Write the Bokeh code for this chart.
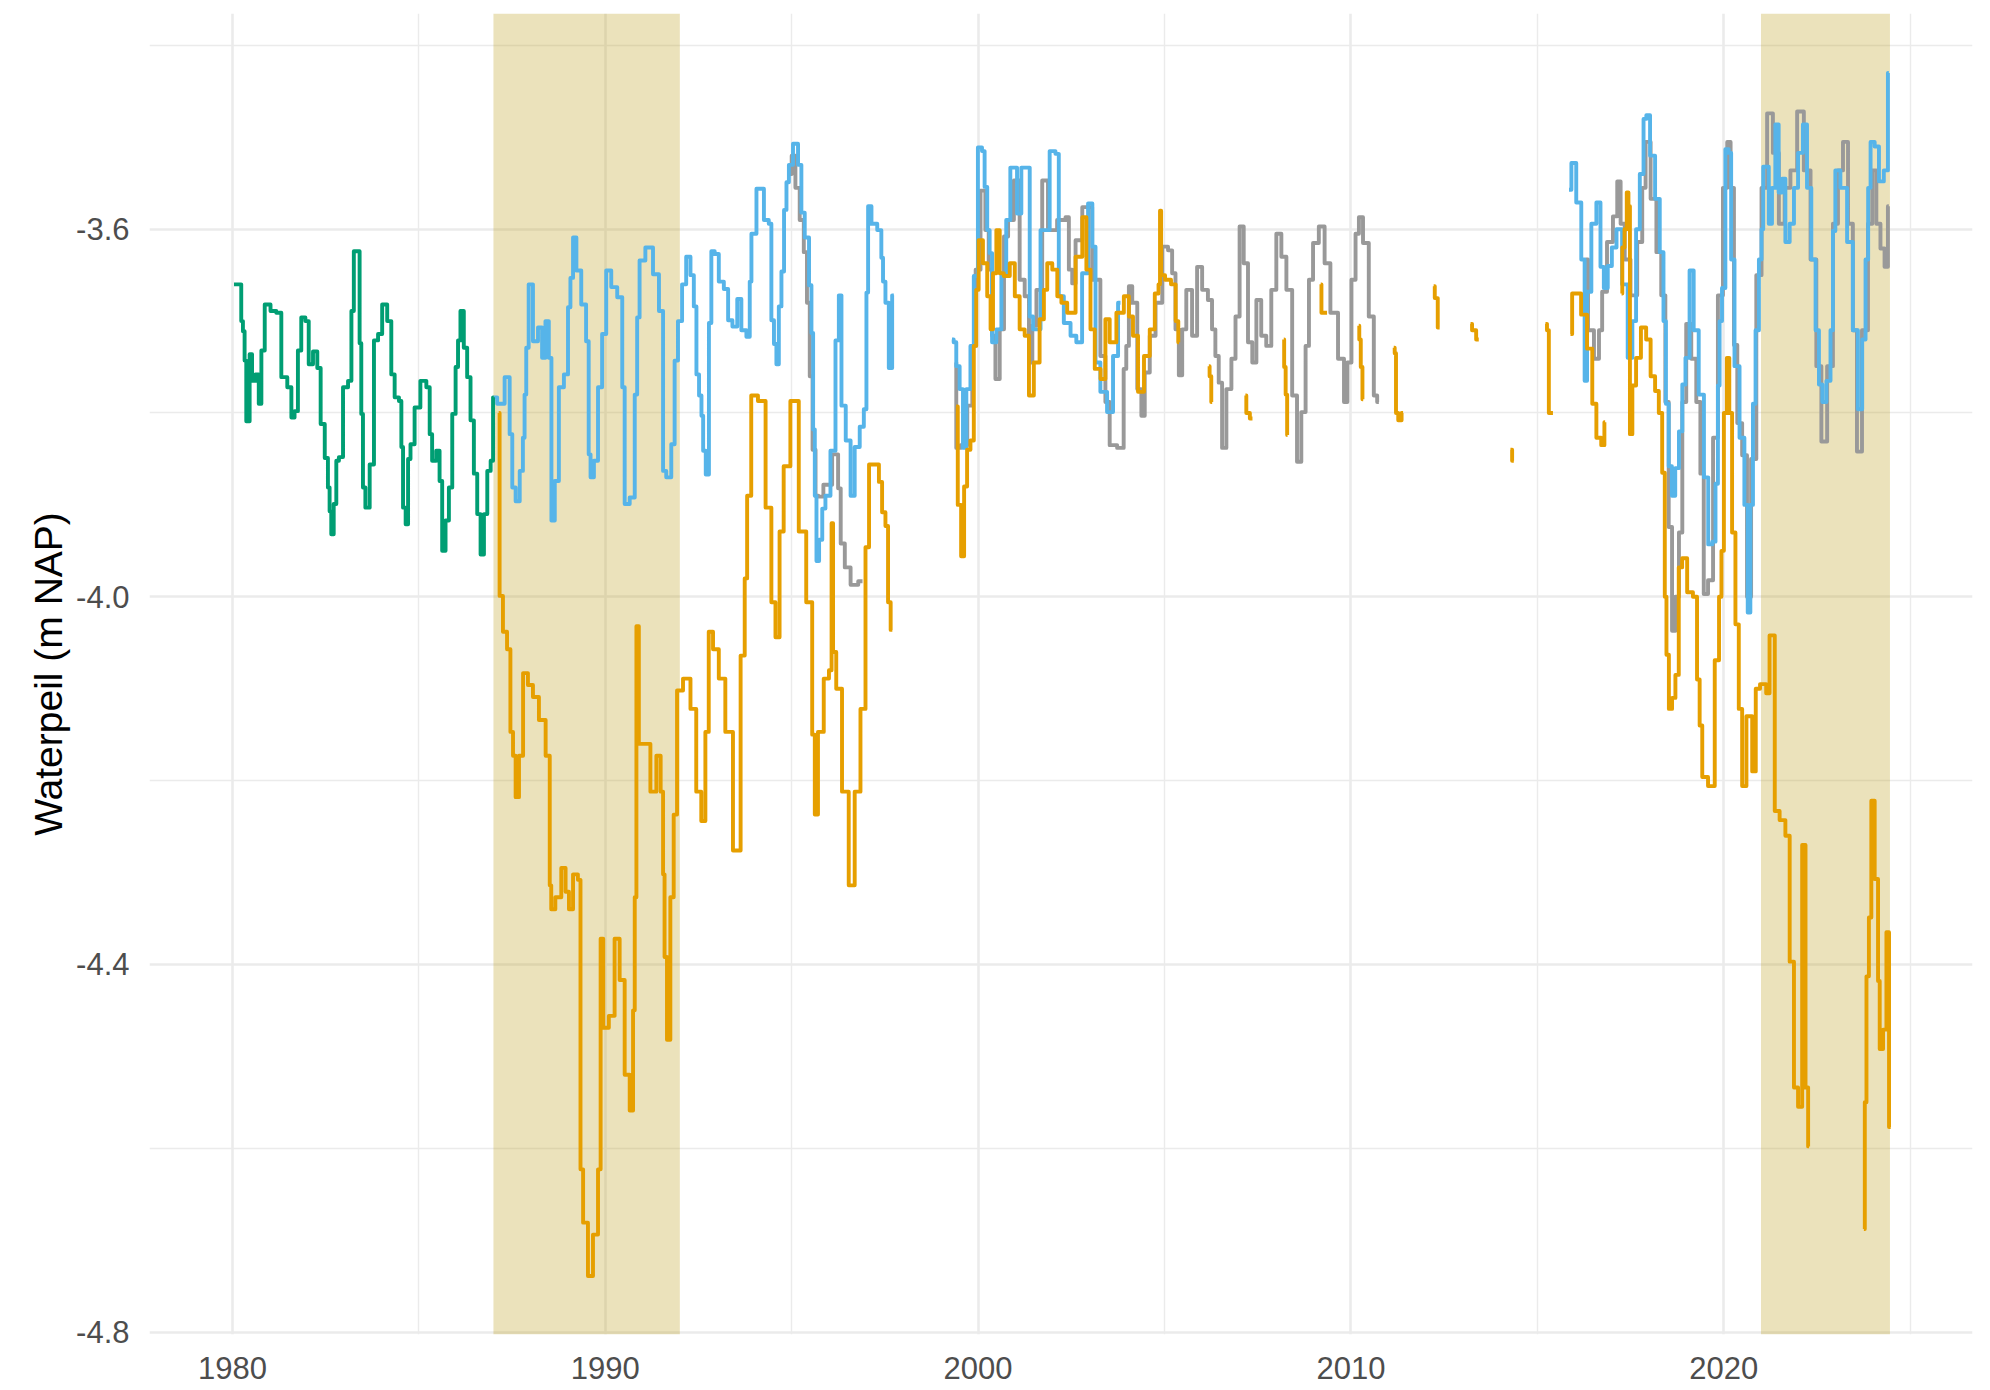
import math
from bokeh.plotting import figure
from bokeh.models import Range1d, FixedTicker, PrintfTickFormatter
from bokeh.embed import file_html
from bokeh.resources import INLINE

# ---------------- data (year, water level m NAP); None = gap ----------------
x_ticks = [1980, 1990, 2000, 2010, 2020]
x_minor = [1985, 1995, 2005, 2015, 2025]
y_ticks = [-4.8, -4.4, -4.0, -3.6]
y_minor = [-4.6, -4.2, -3.8, -3.4]

shade_start = [1987.0, 2021.0]
shade_end = [1992.0, 2024.46]

green = [(1980.04,-3.660),(1980.21,-3.660),(1980.26,-3.700),(1980.30,-3.711),(1980.35,-3.743),(1980.39,-3.809),
         (1980.44,-3.809),(1980.48,-3.736),(1980.57,-3.765),(1980.66,-3.758),(1980.75,-3.790),(1980.80,-3.732),
         (1980.93,-3.682),(1981.11,-3.689),(1981.24,-3.691),(1981.38,-3.761),(1981.56,-3.772),(1981.60,-3.805),
         (1981.73,-3.798),(1981.78,-3.732),(1981.91,-3.696),(1982.00,-3.700),(1982.09,-3.747),(1982.23,-3.733),
         (1982.32,-3.751),(1982.41,-3.812),(1982.54,-3.849),(1982.58,-3.881),(1982.63,-3.907),(1982.67,-3.932),
         (1982.76,-3.899),(1982.81,-3.852),(1982.90,-3.848),(1983.03,-3.772),(1983.17,-3.765),(1983.21,-3.689),
         (1983.30,-3.624),(1983.39,-3.624),(1983.43,-3.724),(1983.48,-3.801),(1983.52,-3.881),(1983.61,-3.903),
         (1983.75,-3.856),(1983.84,-3.721),(1983.97,-3.714),(1984.06,-3.682),(1984.24,-3.700),(1984.28,-3.758),
         (1984.42,-3.783),(1984.51,-3.787),(1984.55,-3.837),(1984.60,-3.903),(1984.69,-3.921),(1984.73,-3.850),
         (1984.82,-3.834),(1984.95,-3.794),(1985.13,-3.765),(1985.27,-3.772),(1985.31,-3.823),(1985.40,-3.852),
         (1985.53,-3.841),(1985.58,-3.874),(1985.67,-3.950),(1985.76,-3.917),(1985.85,-3.881),(1985.94,-3.801),
         (1986.03,-3.750),(1986.07,-3.721),(1986.16,-3.689),(1986.25,-3.729),(1986.34,-3.761),(1986.43,-3.808),
         (1986.52,-3.866),(1986.61,-3.910),(1986.70,-3.954),(1986.79,-3.910),(1986.88,-3.863),(1986.97,-3.852),
         (1987.01,-3.783)]

blue = [(1987.01,-3.783),(1987.19,-3.790),(1987.41,-3.761),(1987.46,-3.823),(1987.55,-3.881),(1987.64,-3.896),
        (1987.77,-3.863),(1987.81,-3.827),(1987.86,-3.780),(1987.90,-3.729),(1987.99,-3.660),(1988.13,-3.722),
        (1988.26,-3.707),(1988.35,-3.740),(1988.44,-3.700),(1988.53,-3.740),(1988.58,-3.917),(1988.71,-3.874),
        (1988.80,-3.772),(1988.98,-3.758),(1989.02,-3.685),(1989.11,-3.653),(1989.16,-3.609),(1989.29,-3.645),
        (1989.42,-3.682),(1989.55,-3.722),(1989.56,-3.845),(1989.65,-3.870),(1989.74,-3.852),(1989.87,-3.772),
        (1989.96,-3.714),(1990.09,-3.645),(1990.23,-3.663),(1990.41,-3.674),(1990.50,-3.772),(1990.54,-3.899),
        (1990.77,-3.892),(1990.81,-3.780),(1990.90,-3.696),(1990.94,-3.634),(1991.21,-3.620),(1991.35,-3.649),
        (1991.53,-3.689),(1991.57,-3.863),(1991.70,-3.870),(1991.84,-3.834),(1991.88,-3.743),(1992.02,-3.700),
        (1992.10,-3.660),(1992.24,-3.630),(1992.33,-3.650),(1992.42,-3.684),(1992.47,-3.758),(1992.56,-3.781),
        (1992.60,-3.803),(1992.65,-3.841),(1992.74,-3.867),(1992.82,-3.702),(1992.87,-3.624),(1993.00,-3.627),
        (1993.09,-3.657),(1993.27,-3.665),(1993.32,-3.699),(1993.50,-3.706),(1993.58,-3.676),(1993.72,-3.710),
        (1993.85,-3.717),(1993.90,-3.657),(1993.94,-3.605),(1994.17,-3.556),(1994.34,-3.590),(1994.43,-3.594),
        (1994.48,-3.699),(1994.57,-3.725),(1994.61,-3.747),(1994.70,-3.684),(1994.75,-3.646),(1994.84,-3.579),
        (1994.88,-3.549),(1994.97,-3.530),(1995.10,-3.507),(1995.24,-3.530),(1995.28,-3.582),(1995.42,-3.609),
        (1995.51,-3.661),(1995.55,-3.713),(1995.60,-3.818),(1995.64,-3.890),(1995.69,-3.961),(1995.78,-3.938),
        (1995.86,-3.904),(1995.95,-3.890),(1996.13,-3.841),(1996.22,-3.721),(1996.31,-3.672),(1996.36,-3.792),
        (1996.54,-3.830),(1996.62,-3.890),(1996.76,-3.837),(1996.89,-3.815),(1996.98,-3.796),(1997.03,-3.669),
        (1997.07,-3.575),(1997.21,-3.594),(1997.38,-3.601),(1997.43,-3.631),(1997.47,-3.657),(1997.56,-3.680),
        (1997.65,-3.751),(1997.74,-3.672),
        None,
        (1999.30,-3.720),(1999.39,-3.723),(1999.44,-3.749),(1999.57,-3.774),(1999.62,-3.838),(1999.75,-3.774),
        (1999.84,-3.727),(1999.93,-3.651),(2000.06,-3.511),(2000.15,-3.515),(2000.20,-3.554),(2000.29,-3.601),
        (2000.33,-3.626),(2000.42,-3.723),(2000.56,-3.709),(2000.69,-3.648),(2000.82,-3.590),(2000.91,-3.533),
        (2001.00,-3.533),(2001.09,-3.583),(2001.23,-3.533),(2001.36,-3.533),(2001.41,-3.695),(2001.54,-3.709),
        (2001.81,-3.601),(2002.03,-3.515),(2002.12,-3.518),(2002.21,-3.673),(2002.39,-3.702),(2002.57,-3.716),
        (2002.70,-3.723),(2002.88,-3.648),(2003.02,-3.572),(2003.11,-3.619),(2003.19,-3.745),(2003.37,-3.777),
        (2003.55,-3.799),(2003.69,-3.738),(2003.82,-3.680),
        None,
        (2015.85,-3.557),(2015.98,-3.528),(2016.11,-3.571),(2016.25,-3.633),(2016.29,-3.765),(2016.38,-3.668),
        (2016.52,-3.594),(2016.65,-3.571),(2016.74,-3.641),(2016.83,-3.664),(2016.95,-3.640),(2017.05,-3.620),
        (2017.20,-3.600),(2017.35,-3.660),(2017.50,-3.740),(2017.60,-3.700),(2017.70,-3.600),(2017.80,-3.540),
        (2017.90,-3.480),(2017.95,-3.476),(2018.10,-3.520),(2018.22,-3.567),(2018.35,-3.625),(2018.42,-3.700),
        (2018.48,-3.790),(2018.57,-3.858),(2018.65,-3.890),(2018.75,-3.860),(2018.85,-3.820),(2018.93,-3.769),
        (2019.02,-3.740),(2019.15,-3.645),(2019.24,-3.710),(2019.42,-3.780),(2019.52,-3.870),(2019.65,-3.943),
        (2019.74,-3.940),(2019.82,-3.877),(2019.87,-3.770),(2019.91,-3.700),(2020.00,-3.664),(2020.09,-3.513),
        (2020.18,-3.517),(2020.22,-3.633),(2020.36,-3.749),(2020.49,-3.827),(2020.62,-3.900),(2020.67,-4.017),
        (2020.76,-3.900),(2020.81,-3.790),(2020.90,-3.710),(2020.99,-3.633),(2021.04,-3.600),(2021.08,-3.532),
        (2021.17,-3.532),(2021.25,-3.594),(2021.34,-3.555),(2021.43,-3.486),(2021.52,-3.560),(2021.61,-3.545),
        (2021.70,-3.614),(2021.84,-3.594),(2021.93,-3.555),(2022.06,-3.517),(2022.19,-3.486),(2022.28,-3.555),
        (2022.42,-3.633),(2022.51,-3.710),(2022.60,-3.769),(2022.69,-3.788),(2022.82,-3.765),(2022.91,-3.710),
        (2022.95,-3.602),(2023.04,-3.536),(2023.22,-3.555),(2023.40,-3.614),(2023.53,-3.710),(2023.67,-3.796),
        (2023.76,-3.720),(2023.85,-3.633),(2023.90,-3.555),(2023.98,-3.505),(2024.12,-3.510),(2024.21,-3.548),
        (2024.38,-3.536),(2024.43,-3.430)]

grey = [(1994.95,-3.540),(1995.05,-3.520),(1995.15,-3.555),(1995.28,-3.590),(1995.37,-3.625),(1995.45,-3.680),
        (1995.52,-3.760),(1995.60,-3.840),(1995.68,-3.890),(1995.75,-3.891),(1995.95,-3.878),(1996.22,-3.845),
        (1996.27,-3.882),(1996.36,-3.942),(1996.49,-3.968),(1996.67,-3.987),(1996.90,-3.983),
        None,
        (1999.39,-3.745),(1999.44,-3.838),(1999.62,-3.835),(1999.80,-3.792),(1999.89,-3.727),(1999.98,-3.644),
        (2000.15,-3.558),(2000.24,-3.601),(2000.33,-3.644),(2000.42,-3.716),(2000.51,-3.763),(2000.65,-3.709),
        (2000.74,-3.608),(2000.87,-3.590),(2001.05,-3.547),(2001.18,-3.655),(2001.32,-3.673),(2001.41,-3.745),
        (2001.50,-3.705),(2001.63,-3.666),(2001.81,-3.547),(2001.94,-3.601),(2002.30,-3.590),(2002.39,-3.587),
        (2002.48,-3.644),(2002.57,-3.659),(2002.66,-3.612),(2002.93,-3.576),(2003.19,-3.655),(2003.37,-3.738),
        (2003.46,-3.788),(2003.60,-3.835),(2003.86,-3.838),(2003.95,-3.752),(2004.00,-3.727),(2004.09,-3.662),
        (2004.18,-3.680),(2004.36,-3.774),(2004.40,-3.803),(2004.54,-3.756),(2004.67,-3.716),(2004.85,-3.680),
        (2005.03,-3.619),(2005.16,-3.623),(2005.25,-3.648),(2005.34,-3.709),(2005.43,-3.759),(2005.52,-3.709),
        (2005.65,-3.666),(2005.83,-3.716),(2005.92,-3.641),(2006.10,-3.666),(2006.23,-3.677),(2006.32,-3.709),
        (2006.41,-3.738),(2006.50,-3.767),(2006.59,-3.838),(2006.73,-3.774),(2006.86,-3.741),(2006.95,-3.695),
        (2007.08,-3.597),(2007.17,-3.637),(2007.31,-3.723),(2007.40,-3.745),(2007.53,-3.677),(2007.66,-3.716),
        (2007.80,-3.727),(2007.93,-3.666),(2008.07,-3.605),(2008.20,-3.630),(2008.34,-3.666),(2008.51,-3.781),
        (2008.60,-3.853),(2008.74,-3.799),(2008.83,-3.727),(2008.92,-3.655),(2009.05,-3.615),(2009.23,-3.597),
        (2009.36,-3.637),(2009.54,-3.691),(2009.77,-3.741),(2009.86,-3.788),(2009.95,-3.745),(2010.08,-3.655),
        (2010.17,-3.605),(2010.26,-3.587),(2010.39,-3.615),(2010.57,-3.695),(2010.66,-3.781),(2010.75,-3.788),
        None,
        (2016.29,-3.633),(2016.43,-3.710),(2016.61,-3.741),(2016.70,-3.710),(2016.78,-3.668),(2016.96,-3.614),
        (2017.10,-3.586),(2017.19,-3.548),(2017.28,-3.594),(2017.41,-3.633),(2017.59,-3.672),(2017.77,-3.614),
        (2017.86,-3.555),(2017.95,-3.505),(2018.13,-3.567),(2018.26,-3.625),(2018.39,-3.672),(2018.48,-3.788),
        (2018.57,-3.924),(2018.66,-4.037),(2018.75,-4.000),(2018.85,-3.930),(2018.93,-3.788),(2019.06,-3.703),
        (2019.20,-3.741),(2019.33,-3.788),(2019.42,-3.866),(2019.51,-3.997),(2019.65,-3.982),(2019.78,-3.827),
        (2019.91,-3.672),(2020.05,-3.555),(2020.14,-3.505),(2020.23,-3.555),(2020.32,-3.726),(2020.41,-3.811),
        (2020.58,-3.846),(2020.67,-4.000),(2020.80,-3.850),(2020.95,-3.650),(2021.08,-3.555),(2021.25,-3.474),
        (2021.39,-3.517),(2021.57,-3.594),(2021.70,-3.555),(2021.88,-3.536),(2022.06,-3.472),(2022.24,-3.536),
        (2022.42,-3.633),(2022.55,-3.749),(2022.69,-3.831),(2022.86,-3.749),(2023.00,-3.594),(2023.13,-3.536),
        (2023.27,-3.505),(2023.40,-3.594),(2023.53,-3.710),(2023.62,-3.842),(2023.80,-3.710),(2023.94,-3.594),
        (2024.03,-3.536),(2024.16,-3.594),(2024.25,-3.621),(2024.38,-3.641),(2024.43,-3.575)]

orange = [(1987.14,-3.800),(1987.19,-3.999),(1987.32,-4.038),(1987.41,-4.057),(1987.50,-4.147),(1987.55,-4.173),
          (1987.64,-4.218),(1987.73,-4.173),(1987.86,-4.083),(1987.99,-4.096),(1988.13,-4.109),(1988.31,-4.134),
          (1988.49,-4.173),(1988.53,-4.314),(1988.57,-4.340),(1988.75,-4.327),(1988.89,-4.295),(1988.98,-4.321),
          (1989.07,-4.340),(1989.20,-4.302),(1989.33,-4.308),(1989.34,-4.623),(1989.47,-4.681),(1989.60,-4.739),
          (1989.74,-4.694),(1989.87,-4.623),(1989.88,-4.372),(1990.01,-4.469),(1990.18,-4.456),(1990.32,-4.372),
          (1990.45,-4.417),(1990.59,-4.520),(1990.72,-4.559),(1990.77,-4.450),(1990.81,-4.327),(1990.86,-4.032),
          (1990.94,-4.160),(1991.12,-4.160),(1991.30,-4.212),(1991.44,-4.173),(1991.53,-4.212),(1991.57,-4.302),
          (1991.61,-4.392),(1991.70,-4.482),(1991.79,-4.327),(1991.88,-4.237),(1991.97,-4.102),(1992.20,-4.089),
          (1992.37,-4.122),(1992.51,-4.212),(1992.64,-4.244),(1992.73,-4.147),(1992.82,-4.038),(1992.96,-4.057),
          (1993.13,-4.089),(1993.31,-4.147),(1993.54,-4.276),(1993.72,-4.064),(1993.76,-3.980),(1993.85,-3.890),
          (1993.98,-3.781),(1994.21,-3.787),(1994.39,-3.903),(1994.52,-4.006),(1994.61,-4.044),(1994.74,-3.929),
          (1994.83,-3.858),(1995.10,-3.787),(1995.28,-3.929),(1995.50,-4.006),(1995.60,-4.150),(1995.64,-4.237),
          (1995.77,-4.147),(1995.95,-4.089),(1996.05,-4.080),(1996.09,-3.920),(1996.13,-4.060),(1996.26,-4.100),
          (1996.44,-4.212),(1996.62,-4.314),(1996.76,-4.212),(1996.93,-4.122),(1997.03,-3.946),(1997.12,-3.856),
          (1997.30,-3.856),(1997.38,-3.875),(1997.47,-3.908),(1997.56,-3.923),(1997.61,-4.006),(1997.70,-4.036),
          None,
          (1999.41,-3.793),(1999.50,-3.900),(1999.59,-3.956),(1999.66,-3.880),(1999.75,-3.840),(1999.84,-3.830),
          (1999.93,-3.727),(1999.97,-3.666),(2000.06,-3.612),(2000.20,-3.637),(2000.29,-3.673),(2000.38,-3.709),
          (2000.42,-3.648),(2000.56,-3.601),(2000.60,-3.648),(2000.78,-3.651),(2000.92,-3.637),(2001.05,-3.673),
          (2001.18,-3.709),(2001.32,-3.716),(2001.41,-3.781),(2001.58,-3.745),(2001.72,-3.698),(2001.81,-3.666),
          (2001.90,-3.637),(2002.08,-3.644),(2002.17,-3.673),(2002.30,-3.680),(2002.48,-3.691),(2002.75,-3.630),
          (2002.84,-3.587),(2002.97,-3.644),(2003.06,-3.709),(2003.20,-3.752),(2003.37,-3.763),(2003.46,-3.698),
          (2003.60,-3.723),(2003.82,-3.691),(2004.00,-3.673),(2004.09,-3.695),(2004.22,-3.716),(2004.36,-3.777),
          (2004.54,-3.738),(2004.67,-3.709),(2004.81,-3.670),(2004.87,-3.660),(2004.89,-3.580),(2004.93,-3.650),
          (2005.10,-3.655),(2005.25,-3.660),(2005.35,-3.700),(2005.39,-3.723),
          None,
          (2006.19,-3.749),(2006.23,-3.760),(2006.28,-3.788),
          None,
          (2007.17,-3.781),(2007.22,-3.800),(2007.36,-3.806),
          None,
          (2008.20,-3.720),(2008.22,-3.750),(2008.28,-3.780),(2008.30,-3.824),
          None,
          (2009.19,-3.660),(2009.23,-3.691),(2009.36,-3.691),
          None,
          (2010.21,-3.705),(2010.24,-3.720),(2010.29,-3.750),(2010.33,-3.785),
          None,
          (2011.15,-3.729),(2011.20,-3.735),(2011.22,-3.800),(2011.32,-3.808),(2011.40,-3.800),
          None,
          (2012.22,-3.662),(2012.28,-3.675),(2012.38,-3.707),
          None,
          (2013.21,-3.703),(2013.29,-3.710),(2013.43,-3.720),
          None,
          (2014.28,-3.840),(2014.37,-3.852),
          None,
          (2015.22,-3.703),(2015.30,-3.710),(2015.32,-3.800),(2015.42,-3.800),
          None,
          (2015.89,-3.714),(2015.98,-3.670),(2016.11,-3.670),(2016.24,-3.693),(2016.43,-3.730),(2016.52,-3.790),
          (2016.65,-3.827),(2016.78,-3.835),(2016.82,-3.810),
          None,
          (2017.26,-3.670),(2017.30,-3.620),(2017.38,-3.600),(2017.42,-3.560),(2017.47,-3.575),(2017.50,-3.823),
          (2017.60,-3.770),(2017.70,-3.740),(2017.86,-3.707),(2017.98,-3.720),(2018.10,-3.760),(2018.22,-3.776),
          (2018.30,-3.800),(2018.40,-3.865),(2018.44,-4.000),(2018.49,-4.063),(2018.57,-4.122),(2018.66,-4.110),
          (2018.75,-4.085),(2018.84,-3.968),(2018.93,-3.958),(2019.11,-3.995),(2019.24,-4.000),(2019.33,-4.090),
          (2019.38,-4.140),(2019.47,-4.196),(2019.69,-4.206),(2019.83,-4.069),(2019.92,-4.000),(2019.96,-3.950),
          (2020.05,-3.800),(2020.12,-3.740),(2020.18,-3.800),(2020.27,-3.930),(2020.36,-4.030),(2020.45,-4.122),
          (2020.54,-4.206),(2020.68,-4.130),(2020.85,-4.190),(2020.87,-4.100),(2021.08,-4.095),(2021.20,-4.105),
          (2021.26,-4.042),(2021.35,-4.042),(2021.39,-4.233),(2021.61,-4.243),(2021.70,-4.260),(2021.84,-4.397),
          (2021.93,-4.534),(2022.06,-4.555),(2022.15,-4.270),(2022.24,-4.534),(2022.29,-4.598),
          None,
          (2023.76,-4.688),(2023.81,-4.550),(2023.85,-4.413),(2023.94,-4.349),(2023.98,-4.222),(2024.12,-4.307),
          (2024.16,-4.418),(2024.21,-4.492),(2024.34,-4.471),(2024.39,-4.365),(2024.48,-4.577)]

# ---------------- helpers ----------------
def segments(pairs):
    segs, cur = [], []
    for pt in pairs:
        if pt is None:
            if cur:
                segs.append(cur)
            cur = []
        else:
            cur.append(pt)
    if cur:
        segs.append(cur)
    return segs

X0, X1 = 1977.774, 2026.674
Y0, Y1 = -4.8027, -3.3653

p = figure(width=1982, height=1388, output_backend="svg", toolbar_location=None,
           x_range=Range1d(X0, X1), y_range=Range1d(Y0, Y1),
           min_border_left=149, min_border_right=10, min_border_top=13, min_border_bottom=54)
p.outline_line_color = None
p.background_fill_color = "white"
p.border_fill_color = "white"

p.xaxis.ticker = FixedTicker(ticks=x_ticks, minor_ticks=x_minor)
p.yaxis.ticker = FixedTicker(ticks=y_ticks, minor_ticks=y_minor)
p.yaxis.formatter = PrintfTickFormatter(format="%.1f")

for ax in (p.xaxis, p.yaxis):
    ax.axis_line_color = None
    ax.major_tick_line_color = None
    ax.minor_tick_line_color = None
    ax.major_tick_out = 0
    ax.major_tick_in = 0
    ax.minor_tick_out = 0
    ax.major_label_text_font = "Liberation Sans"
    ax.major_label_text_font_size = "31px"
    ax.major_label_text_color = "#4D4D4D"
p.xaxis.major_label_standoff = 22
p.yaxis.major_label_standoff = 20
p.yaxis.axis_label = "Waterpeil (m NAP)"
p.yaxis.axis_label_text_font = "Liberation Sans"
p.yaxis.axis_label_text_font_size = "39px"
p.yaxis.axis_label_text_font_style = "normal"
p.yaxis.axis_label_text_color = "#000000"
p.yaxis.axis_label_standoff = 3

p.grid.grid_line_color = "#EBEBEB"
p.grid.grid_line_width = 2.6
p.grid.minor_grid_line_color = "#EBEBEB"
p.grid.minor_grid_line_width = 1.4

# drought periods
p.quad(left=shade_start, right=shade_end, bottom=[Y0] * len(shade_start), top=[Y1] * len(shade_start),
       fill_color=(190, 160, 30), fill_alpha=0.3, line_color=None)

for series, col in ((grey, "#999999"), (blue, "#56B4E9"), (green, "#009E73"), (orange, "#E69F00")):
    for seg in segments(series):
        xs = [pt[0] for pt in seg]
        ys = [pt[1] for pt in seg]
        p.step(xs, ys, mode="center", line_color=col, line_width=3.9, line_join="round")

open("out.html", "w").write(file_html(p, INLINE))
